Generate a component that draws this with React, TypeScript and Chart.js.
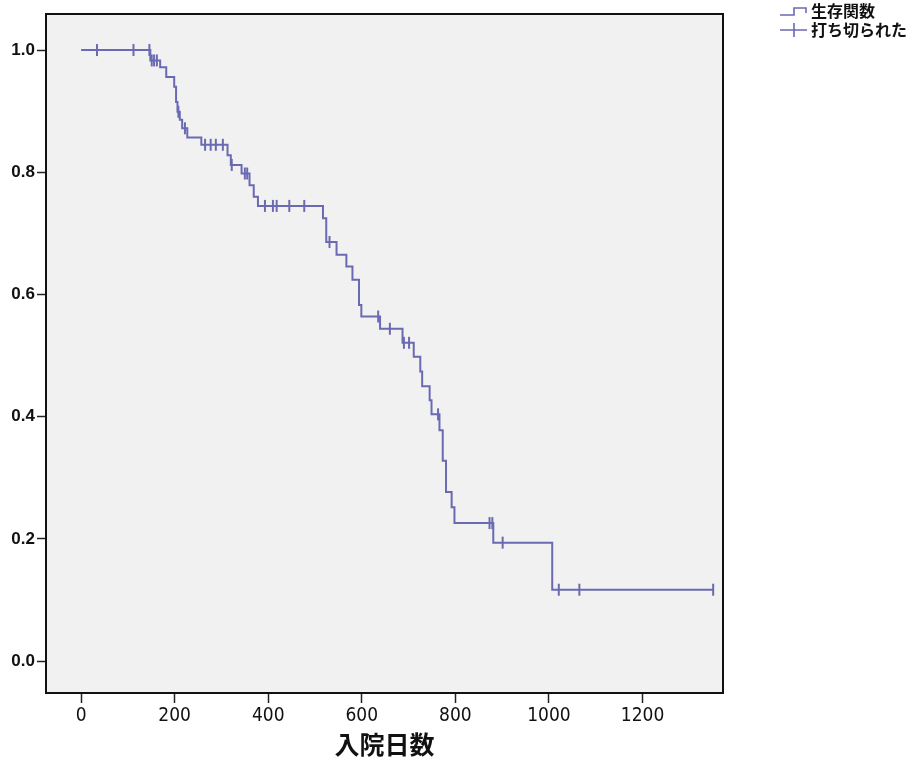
import React, { useEffect, useRef } from 'react';
import { Chart, registerables } from 'chart.js';

Chart.register(...registerables);

// Kaplan–Meier step points: day of event and survival after the event
const eventDays = [0, 148, 169, 182, 199, 203, 206, 211, 216, 227, 257, 313, 320, 343, 360, 369, 378, 517, 524, 546, 567, 580, 594, 599, 639, 687, 711, 725, 729, 745, 749, 766, 773, 780, 792, 798, 881, 1007, 1351];
const survivalValues = [1.0, 0.983, 0.972, 0.956, 0.94, 0.915, 0.899, 0.886, 0.872, 0.857, 0.845, 0.828, 0.812, 0.798, 0.779, 0.76, 0.745, 0.725, 0.686, 0.665, 0.646, 0.624, 0.583, 0.564, 0.544, 0.521, 0.498, 0.474, 0.45, 0.427, 0.404, 0.378, 0.328, 0.277, 0.252, 0.226, 0.194, 0.117, 0.117];
// Censored observations (days)
const censoredDays = [34, 112, 146, 151, 156, 162, 208, 222, 265, 277, 288, 303, 322, 350, 355, 393, 410, 418, 445, 477, 531, 635, 660, 690, 701, 763, 873, 879, 901, 1021, 1065, 1351];

const xTickValues = [0, 200, 400, 600, 800, 1000, 1200];
const yTickValues = [0, 0.2, 0.4, 0.6, 0.8, 1.0];
const legendLabels = ['生存関数', '打ち切られた'];
const xAxisTitle = '入院日数';

const LINE_COLOR = '#6a6ab2';

function survivalAt(t: number): number {
  let s = survivalValues[0];
  for (let i = 0; i < eventDays.length; i++) {
    if (eventDays[i] <= t) s = survivalValues[i];
  }
  return s;
}

const framePlugin = {
  id: 'framePlugin',
  beforeDraw(chart: any) {
    const { ctx, chartArea: a, width, height } = chart;
    ctx.save();
    ctx.fillStyle = '#ffffff';
    ctx.fillRect(0, 0, width, height);
    ctx.fillStyle = '#f2f1f2';
    ctx.fillRect(a.left, a.top, a.right - a.left, a.bottom - a.top);
    ctx.restore();
  },
  afterDraw(chart: any) {
    const { ctx, chartArea: a } = chart;
    ctx.save();
    ctx.strokeStyle = '#111111';
    ctx.lineWidth = 2;
    ctx.strokeRect(a.left, a.top, a.right - a.left, a.bottom - a.top);

    // legend
    const lx = a.right + 57;
    ctx.strokeStyle = LINE_COLOR;
    ctx.lineWidth = 1.6;
    ctx.beginPath();
    ctx.moveTo(lx, 15);
    ctx.lineTo(lx + 14, 15);
    ctx.lineTo(lx + 14, 8);
    ctx.lineTo(lx + 26, 8);
    ctx.lineTo(lx + 26, 13);
    ctx.stroke();
    ctx.beginPath();
    ctx.moveTo(lx, 30);
    ctx.lineTo(lx + 27, 30);
    ctx.moveTo(lx + 14, 23);
    ctx.lineTo(lx + 14, 37);
    ctx.stroke();

    ctx.fillStyle = '#111111';
    ctx.font = 'bold 16px "Noto Sans CJK JP", sans-serif';
    ctx.textAlign = 'left';
    ctx.textBaseline = 'middle';
    ctx.fillText(legendLabels[0], lx + 31, 11);
    ctx.fillText(legendLabels[1], lx + 31, 30);
    ctx.restore();
  },
};

export default function App() {
  const canvasRef = useRef<HTMLCanvasElement | null>(null);

  useEffect(() => {
    const canvas = canvasRef.current;
    if (!canvas) return;
    const stepData = eventDays.map((d, i) => ({ x: d, y: survivalValues[i] }));
    const censorData = censoredDays.map((d) => ({ x: d, y: survivalAt(d) }));

    const chart = new Chart(canvas, {
      type: 'line',
      data: {
        datasets: [
          {
            label: legendLabels[0],
            data: stepData,
            stepped: 'before',
            borderColor: LINE_COLOR,
            borderWidth: 2,
            pointRadius: 0,
            fill: false,
          },
          {
            type: 'scatter',
            label: legendLabels[1],
            data: censorData,
            showLine: false,
            pointStyle: 'line',
            rotation: 90,
            pointRadius: 6,
            borderColor: LINE_COLOR,
            backgroundColor: LINE_COLOR,
            borderWidth: 2,
          } as any,
        ],
      },
      options: {
        responsive: false,
        animation: false,
        devicePixelRatio: 1,
        layout: { padding: { top: 14, right: 191, bottom: 0, left: 0 } },
        plugins: {
          legend: { display: false },
          tooltip: { enabled: false },
          title: { display: false },
        },
        scales: {
          x: {
            type: 'linear',
            min: -75,
            max: 1372,
            afterBuildTicks: (scale: any) => {
              scale.ticks = xTickValues.map((v) => ({ value: v }));
            },
            afterFit: (scale: any) => {
              scale.height = 67;
            },
            grid: {
              display: true,
              drawOnChartArea: false,
              drawTicks: true,
              tickLength: 10,
              tickWidth: 1.5,
              tickColor: '#222222',
            },
            border: { display: true, color: '#111111', width: 2 },
            ticks: {
              color: '#111111',
              padding: 2,
              maxRotation: 0,
              autoSkip: false,
              font: { family: '"Liberation Sans Narrow", "DejaVu Sans Condensed", sans-serif', size: 19 },
              callback: (v: any) => String(v),
            },
            title: {
              display: true,
              text: xAxisTitle,
              color: '#111111',
              font: { family: '"Noto Sans CJK JP", sans-serif', size: 25, weight: 'bold' },
              padding: { top: 0, bottom: 1 },
            },
          },
          y: {
            type: 'linear',
            min: -0.052,
            max: 1.059,
            afterBuildTicks: (scale: any) => {
              scale.ticks = yTickValues.map((v) => ({ value: v }));
            },
            afterFit: (scale: any) => {
              scale.width = 46;
            },
            grid: {
              display: true,
              drawOnChartArea: false,
              drawTicks: true,
              tickLength: 9,
              tickWidth: 1.5,
              tickColor: '#222222',
            },
            border: { display: true, color: '#111111', width: 2 },
            ticks: {
              color: '#111111',
              padding: 2,
              autoSkip: false,
              font: { family: '"Liberation Sans", Arial, sans-serif', size: 17, weight: 'bold' },
              callback: (v: any) => Number(v).toFixed(1),
            },
          },
        },
      },
      plugins: [framePlugin],
    });
    return () => chart.destroy();
  }, []);

  return (
    <div style={{ position: 'absolute', left: 0, top: 0, width: 914, height: 760, background: '#fff' }}>
      <canvas ref={canvasRef} width={914} height={760} style={{ display: 'block' }} />
    </div>
  );
}
